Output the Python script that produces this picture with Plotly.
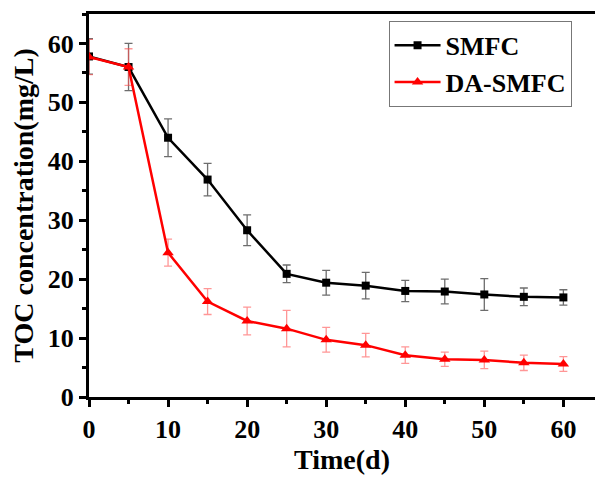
import plotly.graph_objects as go

# Sampling days
days = [0, 5, 10, 15, 20, 25, 30, 35, 40, 45, 50, 55, 60]

# TOC concentration (mg/L) and standard deviations
smfc_toc = [57.8, 56.0, 44.0, 36.9, 28.3, 20.9, 19.4, 18.9, 18.0, 17.9, 17.4, 17.0, 16.9]
smfc_err = [3.0, 4.0, 3.2, 2.75, 2.6, 1.5, 2.1, 2.25, 1.8, 2.1, 2.7, 1.5, 1.3]

da_toc = [57.7, 56.0, 24.5, 16.2, 12.9, 11.6, 9.7, 8.8, 7.1, 6.4, 6.3, 5.8, 5.6]
da_err = [3.0, 3.1, 2.3, 2.2, 2.35, 3.1, 2.1, 2.0, 1.4, 1.2, 1.5, 1.3, 1.25]

x_ticks = [0, 10, 20, 30, 40, 50, 60]
y_ticks = [0, 10, 20, 30, 40, 50, 60]

FONT = "Liberation Serif"

fig = go.Figure()
fig.add_trace(go.Scatter(
    x=days, y=smfc_toc, name="SMFC", mode="lines+markers",
    line=dict(color="black", width=2.5),
    marker=dict(symbol="square", size=8, color="black"),
    error_y=dict(type="data", array=smfc_err, color="rgba(60,60,60,0.75)",
                 thickness=1.3, width=4),
))
fig.add_trace(go.Scatter(
    x=days, y=da_toc, name="DA-SMFC", mode="lines+markers",
    line=dict(color="#ff0000", width=2.5),
    marker=dict(symbol="triangle-up", size=10, color="#ff0000"),
    error_y=dict(type="data", array=da_err, color="rgba(255,80,80,0.6)",
                 thickness=1.3, width=4),
))

axis_common = dict(
    showline=True, linecolor="black", linewidth=3,
    ticks="outside", tickwidth=2.5, ticklen=7, tickcolor="black",
    showgrid=False, zeroline=False,
    tickfont=dict(family=FONT, size=26, color="black", weight="bold"),
    title_font=dict(family=FONT, size=28, color="black", weight="bold"),
)

fig.update_xaxes(
    **axis_common, range=[0, 64], tickvals=x_ticks, mirror=True,
    minor=dict(dtick=5, tick0=0, ticks="outside", ticklen=4, tickwidth=2.5, tickcolor="black"),
    title_text="Time(d)", title_standoff=6,
)
fig.update_yaxes(
    **axis_common, range=[0, 65], tickvals=y_ticks,
    minor=dict(dtick=5, tick0=0, ticks="outside", ticklen=4, tickwidth=2.5, tickcolor="black"),
    title_text="TOC concentration(mg/L)", title_standoff=6,
)

fig.update_layout(
    width=595, height=477,
    margin=dict(l=89, r=0, t=14, b=80),
    plot_bgcolor="white", paper_bgcolor="white",
    legend=dict(
        x=0.592, y=0.982, xanchor="left", yanchor="top",
        bordercolor="#777777", borderwidth=1, bgcolor="white",
        font=dict(family=FONT, size=26, color="black", weight="bold"),
        itemwidth=46, tracegroupgap=0,
    ),
)

fig.write_html("out.html")
